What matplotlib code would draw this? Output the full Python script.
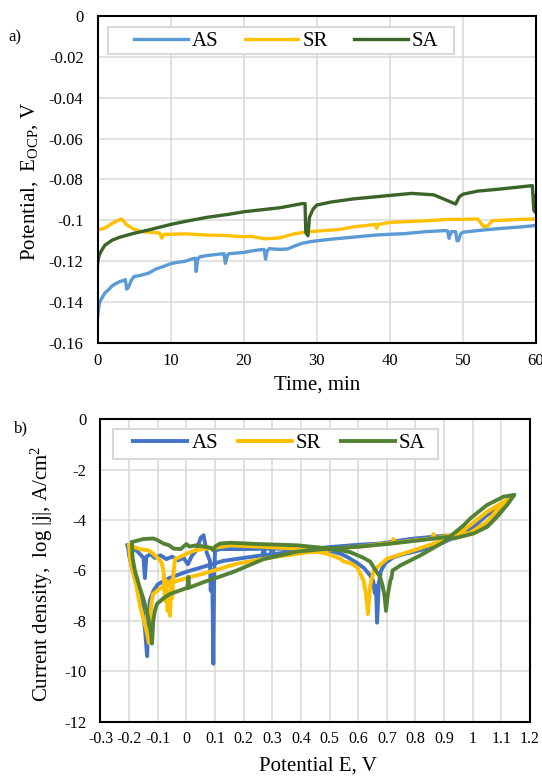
import numpy as np
import matplotlib
matplotlib.use('Agg')
import matplotlib.pyplot as plt
from matplotlib.patches import Rectangle

plt.rcParams['font.family'] = ['Liberation Serif', 'DejaVu Serif']
plt.rcParams['mathtext.fontset'] = 'custom'
plt.rcParams['mathtext.rm'] = 'Liberation Serif'
plt.rcParams['mathtext.it'] = 'Liberation Serif:italic'

# ---- panel a: open circuit potential vs time (t [min], E [V]) ----
ocp_AS = [(0, -0.148), (0.1, -0.144), (0.3, -0.140), (0.6, -0.138), (1, -0.1356), (1.5, -0.134),
          (2, -0.132), (2.5, -0.131), (3, -0.130), (3.5, -0.1295), (3.8, -0.129), (4.0, -0.1336),
          (4.2, -0.133), (4.6, -0.1295), (5, -0.1275), (6, -0.1268), (7, -0.1258), (8, -0.1238),
          (9, -0.1226), (10, -0.1212), (11, -0.1205), (12, -0.1200), (13, -0.1188), (13.4, -0.1185),
          (13.5, -0.1250), (13.7, -0.1190), (14, -0.1178), (15, -0.1172), (16, -0.1168),
          (17.3, -0.1163), (17.5, -0.1210), (17.8, -0.1168), (18, -0.1163), (19, -0.1160),
          (20, -0.1157), (21, -0.1150), (22, -0.1145), (22.8, -0.1142), (23, -0.1190),
          (23.2, -0.1150), (23.5, -0.1138), (24, -0.1140), (25, -0.1142), (26, -0.1140),
          (27, -0.1125), (28, -0.1112), (29, -0.1105), (30, -0.1100), (32, -0.1092), (35, -0.1082),
          (38, -0.1072), (40, -0.1068), (42, -0.1065), (45, -0.1055), (47.5, -0.1050),
          (47.9, -0.1052), (48.1, -0.1088), (48.4, -0.1055), (49, -0.1055), (49.2, -0.1100),
          (49.4, -0.1098), (49.7, -0.1065), (50, -0.1058), (52, -0.1050), (55, -0.1040),
          (58, -0.1032), (60, -0.1025)]
ocp_SR = [(0, -0.1047), (1, -0.1038), (2, -0.1015), (2.8, -0.1000), (3.3, -0.0993), (4, -0.1022),
          (5, -0.1043), (6, -0.1055), (7, -0.1058), (8, -0.1060), (8.5, -0.1062), (8.8, -0.1087),
          (9.1, -0.1068), (10, -0.1068), (12, -0.1066), (15, -0.1072), (17, -0.1073), (20, -0.1080),
          (21, -0.1078), (22, -0.1085), (23, -0.1090), (24, -0.1088), (25, -0.1085), (27, -0.1065),
          (29, -0.1055), (31, -0.1050), (33, -0.1045), (35, -0.1032), (38, -0.1020), (38.2, -0.1038),
          (38.4, -0.1020), (40, -0.1010), (45, -0.1002), (48, -0.0995), (50, -0.0995), (52, -0.0993),
          (52.4, -0.1010), (52.8, -0.1030), (53.4, -0.1028), (54, -0.1002), (55, -0.1000),
          (58, -0.0995), (60, -0.0993)]
ocp_SA = [(0, -0.1217), (0.1, -0.1190), (0.3, -0.1165), (0.6, -0.1145), (1, -0.1122), (2, -0.1097),
          (3, -0.1083), (5, -0.1063), (7, -0.1047), (10, -0.1020), (12, -0.1005), (15, -0.0985),
          (18, -0.0970), (20, -0.0958), (25, -0.0938), (28, -0.0918), (28.4, -0.0918),
          (28.5, -0.1060), (28.8, -0.1075), (29, -0.0985), (29.5, -0.0945), (30, -0.0925),
          (32, -0.0910), (35, -0.0895), (40, -0.0878), (43, -0.0868), (46, -0.0875), (47, -0.0890),
          (49, -0.0920), (49.5, -0.0885), (50, -0.0872), (52, -0.0857), (55, -0.0847),
          (59.5, -0.0830), (59.7, -0.0950), (59.9, -0.0960), (60, -0.0880)]

# ---- panel b: cyclic polarisation (E [V], log|j|) ----
cp_AS = [(-0.205, -5.0), (-0.2, -5.4), (-0.19, -5.9), (-0.175, -6.5), (-0.162, -7.07), (-0.152, -7.6),
         (-0.145, -8.3), (-0.14, -9.0), (-0.137, -9.4), (-0.134, -8.2), (-0.128, -7.2), (-0.115, -6.8),
         (-0.1, -6.55), (-0.06, -6.3), (0.0, -6.05), (0.06, -5.85), (0.128, -5.62), (0.2, -5.5),
         (0.265, -5.4), (0.27, -5.15), (0.275, -5.4), (0.295, -5.35), (0.3, -5.1), (0.305, -5.35),
         (0.4, -5.2), (0.5, -5.07), (0.6, -4.98), (0.677, -4.93), (0.782, -4.75), (0.9, -4.62),
         (0.95, -4.6), (1.0, -4.5), (1.05, -4.2), (1.1, -3.6), (1.145, -3.0),
         (1.1, -3.4), (1.05, -3.8), (1.0, -4.3), (0.95, -4.62), (0.9, -4.87), (0.84, -5.13),
         (0.76, -5.35), (0.724, -5.47), (0.695, -5.7), (0.68, -6.0), (0.672, -6.5), (0.666, -8.07),
         (0.662, -6.6), (0.658, -6.9), (0.652, -6.4), (0.642, -6.2), (0.62, -5.9), (0.596, -5.7),
         (0.56, -5.45), (0.537, -5.33), (0.5, -5.22), (0.4, -5.15), (0.3, -5.13), (0.2, -5.15),
         (0.12, -5.15), (0.1, -5.2), (0.097, -6.3), (0.094, -9.7), (0.091, -6.8), (0.088, -6.0),
         (0.085, -6.8), (0.082, -5.6), (0.071, -5.3), (0.06, -4.6), (0.05, -4.7), (0.035, -5.2),
         (0.02, -5.4), (0.005, -5.75), (-0.01, -5.5), (-0.03, -5.6), (-0.05, -5.45), (-0.07, -5.55),
         (-0.09, -5.4), (-0.11, -5.5), (-0.125, -5.35), (-0.14, -5.45), (-0.145, -6.3),
         (-0.15, -5.5), (-0.17, -5.25), (-0.205, -5.0)]
cp_SR = [(-0.2, -5.0), (-0.197, -5.5), (-0.19, -5.9), (-0.175, -6.6), (-0.162, -7.4), (-0.148, -8.0),
         (-0.137, -8.5), (-0.131, -8.87), (-0.127, -8.0), (-0.122, -7.3), (-0.116, -6.93),
         (-0.09, -6.7), (-0.057, -6.5), (0.0, -6.3), (0.058, -6.13), (0.176, -5.73), (0.303, -5.47),
         (0.444, -5.25), (0.55, -5.1), (0.607, -5.05), (0.677, -4.95), (0.72, -4.9), (0.723, -4.75),
         (0.727, -4.9), (0.8, -4.8), (0.86, -4.73), (0.863, -4.55), (0.867, -4.73), (0.91, -4.62),
         (0.95, -4.6), (0.992, -4.5), (1.05, -4.07), (1.097, -3.45), (1.145, -3.02),
         (1.12, -3.2), (1.05, -3.67), (0.969, -4.4), (0.93, -4.65), (0.898, -4.8), (0.793, -5.2),
         (0.701, -5.53), (0.654, -6.0), (0.642, -6.6), (0.634, -7.73), (0.628, -7.0), (0.619, -6.4),
         (0.596, -5.87), (0.575, -5.72), (0.561, -5.67), (0.55, -5.65), (0.537, -5.53),
         (0.491, -5.33), (0.386, -5.13), (0.25, -5.05), (0.153, -5.0), (0.118, -5.07),
         (0.071, -5.13), (0.03, -5.2), (0.001, -5.33), (-0.02, -5.45), (-0.04, -5.55),
         (-0.045, -6.1), (-0.05, -7.1), (-0.053, -6.4), (-0.057, -7.8), (-0.062, -7.4),
         (-0.066, -7.6), (-0.07, -6.4), (-0.075, -7.2), (-0.08, -6.0), (-0.086, -5.7),
         (-0.092, -5.6), (-0.116, -5.33), (-0.133, -5.2), (-0.162, -5.15), (-0.2, -5.0)]
cp_SA = [(-0.19, -4.95), (-0.188, -5.5), (-0.18, -6.0), (-0.165, -6.6), (-0.148, -7.2), (-0.135, -7.8),
         (-0.125, -8.4), (-0.12, -8.9), (-0.116, -8.0), (-0.11, -7.6), (-0.103, -7.33), (-0.08, -7.1),
         (-0.057, -6.93), (0.0, -6.7), (0.004, -6.7), (0.007, -6.25), (0.01, -6.68), (0.058, -6.47),
         (0.153, -6.1), (0.176, -6.0), (0.269, -5.55), (0.386, -5.25), (0.5, -5.13), (0.607, -5.05),
         (0.7, -4.95), (0.8, -4.82), (0.91, -4.67), (0.934, -4.73), (1.003, -4.53), (1.05, -4.27),
         (1.085, -3.87), (1.12, -3.4), (1.145, -3.0), (1.108, -3.07), (1.05, -3.4), (0.992, -3.93),
         (0.969, -4.2), (0.934, -4.53), (0.899, -4.87), (0.817, -5.4), (0.747, -5.8), (0.72, -6.0),
         (0.716, -6.3), (0.712, -6.4), (0.703, -7.0), (0.697, -7.6), (0.692, -7.0), (0.685, -6.6),
         (0.677, -6.27), (0.654, -5.87), (0.642, -5.65), (0.619, -5.5), (0.572, -5.27),
         (0.502, -5.13), (0.386, -5.0), (0.25, -4.95), (0.153, -4.9), (0.118, -4.93), (0.1, -5.05),
         (0.094, -5.2), (0.085, -5.1), (0.071, -5.07), (0.036, -5.0), (0.01, -5.05), (0.0, -4.95),
         (-0.02, -5.15), (-0.045, -5.13), (-0.06, -5.0), (-0.08, -4.93), (-0.1, -4.8),
         (-0.115, -4.73), (-0.15, -4.75), (-0.19, -4.87)]

series = ['AS', 'SR', 'SA']
colors_a = ['#5b9bd5', '#ffc000', '#3b6428']
colors_b = ['#4472c4', '#ffc000', '#548235']

a_xticks = [0, 10, 20, 30, 40, 50, 60]
a_yticks = [0, -0.02, -0.04, -0.06, -0.08, -0.1, -0.12, -0.14, -0.16]
a_ylabels = ['0', '-0.02', '-0.04', '-0.06', '-0.08', '-0.1', '-0.12', '-0.14', '-0.16']
b_xticks = [-0.3, -0.2, -0.1, 0, 0.1, 0.2, 0.3, 0.4, 0.5, 0.6, 0.7, 0.8, 0.9, 1, 1.1, 1.2]
b_xlabels = ['-0.3', '-0.2', '-0.1', '0', '0.1', '0.2', '0.3', '0.4', '0.5', '0.6', '0.7',
             '0.8', '0.9', '1', '1.1', '1.2']
b_yticks = [0, -2, -4, -6, -8, -10, -12]
b_ylabels = ['0', '-2', '-4', '-6', '-8', '-10', '-12']

W, H = 542, 777
fig = plt.figure(figsize=(W / 100, H / 100), dpi=100)
ax1 = fig.add_axes([97.5 / W, 1 - 343 / H, (536 - 97.5) / W, (343 - 16) / H])
ax2 = fig.add_axes([100.5 / W, 1 - 721.7 / H, (530 - 100.5) / W, (721.7 - 419.3) / H])


def style(ax):
    ax.grid(True, color='#d9d9d9', linewidth=1.1)
    ax.set_axisbelow(True)
    for s in ax.spines.values():
        s.set_linewidth(1.5)
        s.set_color('black')
    ax.tick_params(length=0, labelsize=12)
    ax.tick_params(axis='y', pad=10)
    ax.tick_params(axis='x', pad=7)


def excel_legend(ax, anchor, box, colsp):
    # Excel style legend: wide padding, thin grey frame
    ax.add_patch(Rectangle(box[:2], box[2], box[3], transform=ax.transAxes, facecolor='white',
                           edgecolor='#d9d9d9', linewidth=1.5, zorder=4.5, clip_on=False))
    leg = ax.legend(loc='center left', bbox_to_anchor=anchor, ncol=3, fontsize=15,
                    frameon=False, borderaxespad=0, borderpad=0, handlelength=2.58,
                    handletextpad=0.2, columnspacing=colsp)
    leg.set_zorder(5)


# panel a
for name, data, c in zip(series, [ocp_AS, ocp_SR, ocp_SA], colors_a):
    t, e = np.array(data).T
    ax1.plot(t, e, color=c, linewidth=2.4, label=name, solid_joinstyle='round')
ax1.set_xlim(0, 60)
ax1.set_ylim(-0.16, 0)
ax1.set_xticks(a_xticks)
ax1.set_yticks(a_yticks)
ax1.set_yticklabels(a_ylabels)
style(ax1)
ax1.set_xlabel('Time, min', fontsize=15)
ax1.xaxis.set_label_coords(0.5, -0.1)
ax1.set_ylabel(r'Potential,  E$_{\mathrm{OCP}}$, V', fontsize=15)
ax1.yaxis.set_label_coords(-0.13, 0.495)
excel_legend(ax1, (0.0832, 0.9235), (0.0239, 0.8838, 0.789, 0.0826), 1.25)

# panel b
for name, data, c in zip(series, [cp_AS, cp_SR, cp_SA], colors_b):
    ev, lj = np.array(data).T
    ax2.plot(ev, lj, color=c, linewidth=2.8, label=name, solid_joinstyle='round')
ax2.set_xlim(-0.3, 1.2)
ax2.set_ylim(-12, 0)
ax2.set_xticks(b_xticks)
ax2.set_xticklabels(b_xlabels)
ax2.set_yticks(b_yticks)
ax2.set_yticklabels(b_ylabels)
style(ax2)
ax2.tick_params(axis='x', labelsize=11.5)
ax2.set_xlabel('Potential E, V', fontsize=15)
ax2.xaxis.set_label_coords(0.506, -0.115)
ax2.set_ylabel(r'Current density,  log |j|, A/cm$^{2}$', fontsize=15)
ax2.yaxis.set_label_coords(-0.105, 0.49)
excel_legend(ax2, (0.0768, 0.9206), (0.0284, 0.8687, 0.7565, 0.0982), 0.95)

fig.text(8 / W, 1 - 37 / H, 'a)', fontsize=12, va='center')
fig.text(14 / W, 1 - 428 / H, 'b)', fontsize=12, va='center')

fig.savefig('out.png', dpi=100)
